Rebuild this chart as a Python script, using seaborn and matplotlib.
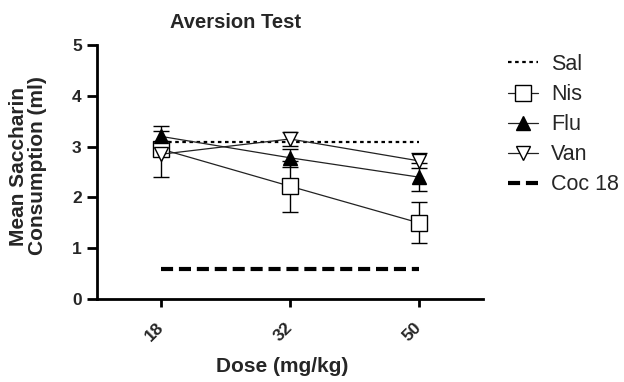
import matplotlib
matplotlib.use("Agg")
import matplotlib.pyplot as plt
import seaborn as sns

doses = ["18", "32", "50"]
nis_mean = [2.95, 2.22, 1.50]
nis_sem = [0.12, 0.50, 0.40]
flu_mean = [3.20, 2.78, 2.40]
flu_sem = [0.20, 0.18, 0.28]
van_mean = [2.85, 3.15, 2.72]
van_sem = [0.45, 0.13, 0.15]
sal_level = [3.1, 3.1, 3.1]
coc_level = [0.6, 0.6, 0.6]
yticks = [0, 1, 2, 3, 4, 5]

sns.set_style("ticks")
plt.rcParams['font.family'] = ['Liberation Sans', 'DejaVu Sans']

fig = plt.figure(figsize=(6.24, 3.82), dpi=100)
ax = fig.add_axes([97/624, 1-299/382, 386/624, 254/382])
pos = list(range(len(doses)))

sns.lineplot(x=pos, y=sal_level, ax=ax, color='black', lw=1.6,
             linestyle=(0, (1.6, 1.6)), label='Sal', zorder=2)

series = [
    ("Nis", nis_mean, nis_sem, 's', 'white', 11),
    ("Flu", flu_mean, flu_sem, '^', 'black', 10.5),
    ("Van", van_mean, van_sem, 'v', 'white', 10.5),
]
for name, m, s, mk, fc, ms in series:
    ax.errorbar(pos, m, yerr=s, fmt='none', ecolor='black', elinewidth=1.0,
                capsize=5.5, capthick=1.0, zorder=2)
    sns.lineplot(x=pos, y=m, ax=ax, color='#222222', lw=0.9, marker=mk,
                 markersize=ms, markerfacecolor=fc, markeredgecolor='black',
                 markeredgewidth=1.0, label=name, zorder=3)

sns.lineplot(x=pos, y=coc_level, ax=ax, color='black', lw=3,
             linestyle=(0, (2.9, 1.4)), label='Coc 18', zorder=2)

ax.set_xlim(-0.5, 2.5)
ax.set_ylim(0, 5)
ax.set_yticks(yticks)
ax.set_yticklabels([str(v) for v in yticks])
ax.set_xticks(pos)
ax.set_xticklabels(doses, rotation=45, ha='right', va='center',
                   rotation_mode='anchor')
for lab in ax.get_xticklabels() + ax.get_yticklabels():
    lab.set_fontsize(12.5)
    lab.set_fontweight('bold')
ax.tick_params(axis='both', width=2, color='black')
ax.tick_params(axis='y', length=7, pad=4)
ax.tick_params(axis='x', length=5.5, pad=13)
for sp in ['left', 'bottom']:
    ax.spines[sp].set_linewidth(2)
    ax.spines[sp].set_color('black')
sns.despine(ax=ax)
ax.set_xlabel('')
ax.set_ylabel('')

fig.text(235/624, 1-23/382, 'Aversion Test', ha='center', va='center',
         fontsize=14.5, fontweight='bold')
fig.text(282/624, 1-366/382, 'Dose (mg/kg)', ha='center', va='center',
         fontsize=15, fontweight='bold')
fig.text(28/624, 1-166/382, 'Mean Saccharin\nConsumption (ml)', ha='center',
         va='center', rotation=90, fontsize=15, fontweight='bold',
         linespacing=1.05)

leg = ax.legend(loc='upper left', bbox_to_anchor=(508/624, 1-54/382),
                bbox_transform=fig.transFigure, frameon=False, fontsize=15.5,
                handlelength=1.4, handletextpad=0.6, labelspacing=0.42,
                borderpad=0, borderaxespad=0)

fig.savefig('out.png', dpi=100)
